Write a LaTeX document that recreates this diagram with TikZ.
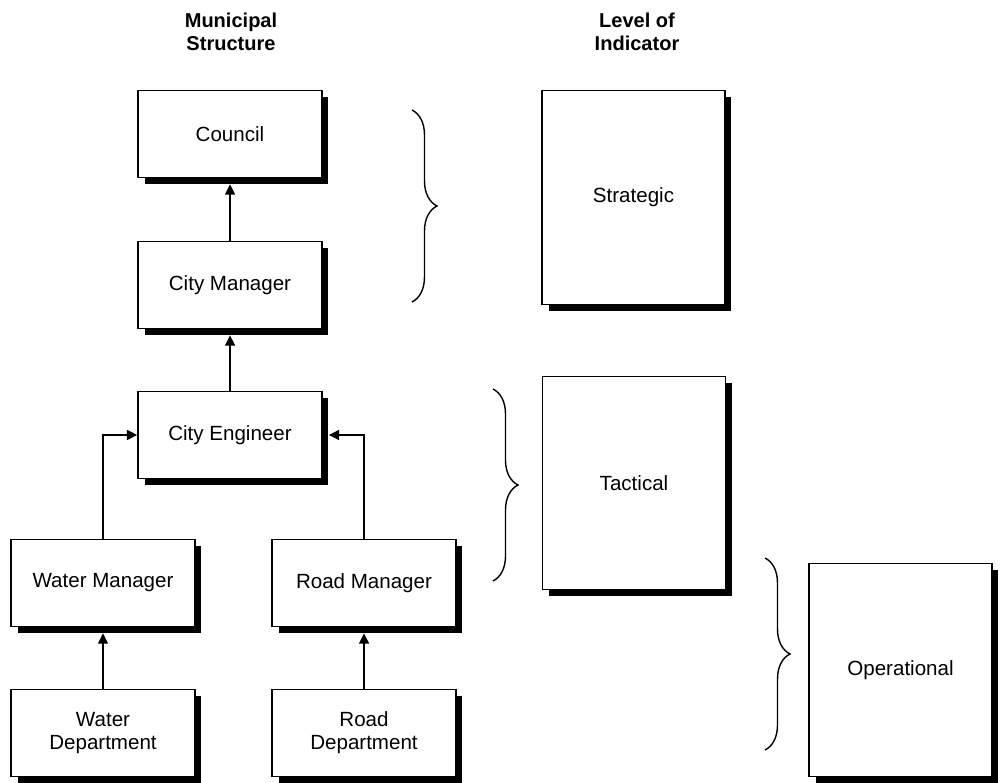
\documentclass[tikz,border=0pt]{standalone}
\usepackage{fontspec}
\setmainfont{Liberation Sans}
\usetikzlibrary{arrows.meta,shadows,decorations.pathreplacing}

\begin{document}
\begin{tikzpicture}[x=0.02cm,y=-0.02cm,
    font=\fontsize{11.7}{13.2}\selectfont,
    orgbox/.style={draw,line width=0.8pt,fill=white,align=center,
      minimum width=3.68cm,minimum height=1.74cm,inner sep=0pt,
      drop shadow={shadow xshift=0.13cm,shadow yshift=-0.13cm,fill=black,opacity=1}},
    levelbox/.style={orgbox,minimum width=3.66cm,minimum height=4.27cm},
    head/.style={align=center,font=\fontsize{11.4}{13.2}\selectfont\bfseries},
    upline/.style={line width=0.9pt,-{Triangle[length=0.21cm,width=0.2cm]}},
    grp/.style={line width=0.8pt,decorate,decoration={brace,amplitude=0.5cm}}]
  \useasboundingbox (0,0) rectangle (1000,783);
  % headings
  \node[head] (hstruct) at (231,32) {Municipal\\Structure};
  \node[head] (hlevel)  at (637,32) {Level of\\Indicator};
  % municipal structure
  \node[orgbox] (council) at (230,134) {Council};
  \node[orgbox] (cman)    at (230,285) {City Manager};
  \node[orgbox] (ceng)    at (230,435) {City Engineer};
  \node[orgbox] (wman)    at (103,583) {Water Manager};
  \node[orgbox] (rman)    at (364,583) {Road Manager};
  \node[orgbox] (wdep)    at (103,733) {Water\\Department};
  \node[orgbox] (rdep)    at (364,733) {Road\\Department};
  % levels of indicator
  \node[levelbox] (strat) at (633.5,197.5) {Strategic};
  \node[levelbox] (tact)  at (634,483)     {Tactical};
  \node[levelbox] (oper)  at (900.5,670)   {Operational};
  % reporting lines
  \draw[upline,shorten >=0.12cm] (cman) -- (council);
  \draw[upline,shorten >=0.12cm] (ceng) -- (cman);
  \draw[upline] (wman.north) |- (ceng.west);
  \draw[upline,shorten >=0.12cm] (rman.north) |- (ceng.east);
  \draw[upline,shorten >=0.12cm] (wdep) -- (wman);
  \draw[upline,shorten >=0.12cm] (rdep) -- (rman);
  % groupings
  \draw[grp] (412,110) -- (412,302);
  \draw[grp] (493,389) -- (493,581);
  \draw[grp] (765,558) -- (765,750);
\end{tikzpicture}
\end{document}
